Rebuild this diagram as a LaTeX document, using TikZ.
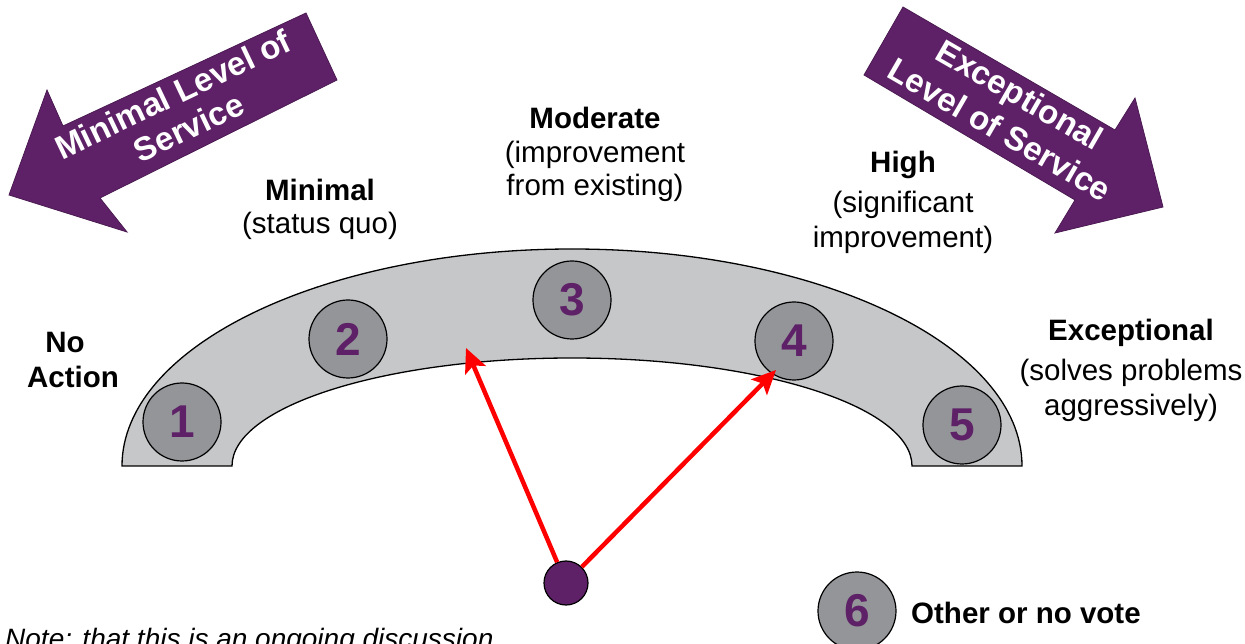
\documentclass[tikz,border=0pt]{standalone}
\usepackage{fontspec}
\setmainfont{Liberation Sans}
\usetikzlibrary{arrows.meta}
\definecolor{vpurple}{HTML}{5E2167}
\definecolor{bandgray}{HTML}{C6C7C9}
\definecolor{circgray}{HTML}{939598}
\begin{document}
\begin{tikzpicture}[x=1pt,y=1pt,
  txt/.style={font=\fontsize{29.5}{35}\selectfont, inner sep=0pt, anchor=base},
  boldtxt/.style={font=\fontsize{29.5}{35}\selectfont\bfseries, inner sep=0pt, anchor=base},
  arrtxt/.style={text=white, inner sep=0pt, align=center, anchor=center},
  numc/.style={circle, draw=black, line width=1.2pt, fill=circgray, minimum size=78pt, inner sep=0pt,
    text=vpurple, font=\fontsize{46}{46}\selectfont\bfseries},
  dotc/.style={circle, draw=black, line width=1.2pt, fill=vpurple, minimum size=44pt, inner sep=0pt},
  bigarrow/.style={fill=vpurple, draw=vpurple!80!black, line width=0.8pt},
  redarrow/.style={draw=red, line width=4.5pt, -{Stealth[length=24pt,width=22pt,inset=5pt]}},
  band/.style={fill=bandgray, draw=black, line width=1.3pt}
]
\useasboundingbox (0,0) rectangle (1245,643);

% band
\draw[band] (122,177) arc[start angle=180,end angle=0,x radius=450,y radius=217]
  -- (912,177) arc[start angle=0,end angle=180,x radius=340,y radius=108] -- cycle;

% big purple arrows
\filldraw[bigarrow] (306,630) -- (63,517) -- (47,553) -- (9,448) -- (127,411) -- (100,445) -- (337,563) -- cycle;
\filldraw[bigarrow] (903,636) -- (1115,513) -- (1135,545) -- (1163,436) -- (1055,410) -- (1075,443) -- (864,568) -- cycle;

\node[arrtxt, rotate=25.5, font=\fontsize{33}{36.7}\selectfont\bfseries] (la) at (180.8,532.3) {Minimal Level of\\Service};
\node[arrtxt, rotate=-30, font=\fontsize{33}{40.3}\selectfont\bfseries] (ra) at (1010,531) {Exceptional\\Level of Service};

% numbered circles
\node[numc] (c1) at (182,221) {\raisebox{-5pt}{1}};
\node[numc] (c2) at (348,304) {\raisebox{-5pt}{2}};
\node[numc] (c3) at (572,343) {\raisebox{-5pt}{3}};
\node[numc] (c4) at (794,302) {\raisebox{-5pt}{4}};
\node[numc] (c5) at (962,218) {\raisebox{-5pt}{5}};
\node[numc] (c6) at (857,32) {\raisebox{-5pt}{6}};

% pointer
\node[dotc] (vote) at (566,60) {};
\coordinate (t3) at (466,295);
\coordinate (t4) at (776,273);
\draw[redarrow] (vote) -- (t3);
\draw[redarrow] (vote) -- (t4);

% labels
\node[boldtxt] (no1) at (65,290.5) {No};
\node[boldtxt] (no2) at (73,255.5) {Action};
\node[boldtxt] (mi1) at (320,442.5) {Minimal};
\node[txt] (mi2) at (320,409) {(status quo)};
\node[boldtxt] (mo1) at (595,514.5) {Moderate};
\node[txt] (mo2) at (595,480) {(improvement};
\node[txt] (mo3) at (595,447) {from existing)};
\node[boldtxt] (hi1) at (903,470.5) {High};
\node[txt] (hi2) at (903,430) {(significant};
\node[txt] (hi3) at (903,395) {improvement)};
\node[boldtxt] (ex1) at (1131,302.5) {Exceptional};
\node[txt] (ex2) at (1131,262) {(solves problems};
\node[txt] (ex3) at (1131,227) {aggressively)};
\node[boldtxt, anchor=base west] (other) at (911,19.5) {Other or no vote};
\node[txt, font=\fontsize{28}{33}\selectfont\itshape, anchor=base west] (note) at (5,-5) {Note: that this is an ongoing discussion};
\end{tikzpicture}
\end{document}
